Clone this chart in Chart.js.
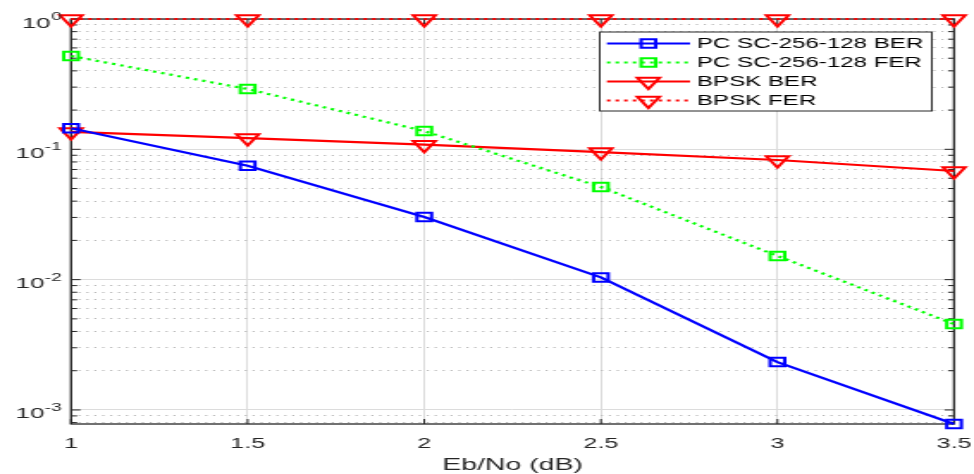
<!DOCTYPE html>
<html>
<head>
<meta charset="utf-8">
<script src="https://cdn.jsdelivr.net/npm/chart.js@4.4.1/dist/chart.umd.min.js"></script>
<style>
  html, body { margin: 0; padding: 0; background: #ffffff; overflow: hidden; }
  #c { display: block; width: 974px; height: 474px; }
</style>
</head>
<body>
<canvas id="c" width="566" height="474" style="width:974px;height:474px;"></canvas>
<script>
// ---------------- data ----------------
const xValues = [1, 1.5, 2, 2.5, 3, 3.5];
const pcBER   = [0.145, 0.0748, 0.0302, 0.0104, 0.00233, 0.00078];
const pcFER   = [0.52, 0.29, 0.138, 0.0514, 0.0152, 0.00456];
const bpskBER = [0.136, 0.122, 0.1085, 0.0953, 0.0828, 0.0682];
const bpskFER = [1, 1, 1, 1, 1, 1];
const seriesLabels = ['PC SC-256-128 BER', 'PC SC-256-128 FER', 'BPSK BER', 'BPSK FER'];
const xTickValues = [1, 1.5, 2, 2.5, 3, 3.5];
const yDecadeExponents = [-3, -2, -1, 0];
const yMinorMultipliers = [2, 3, 4, 5, 6, 7, 8, 9];
const xAxisTitle = 'Eb/No (dB)';
const yMin = 0.00078, yMax = 1;

// ---------------- helpers ----------------
const FONT = '"Liberation Sans", Arial, Helvetica, sans-serif';
const AXIS_COLOR = '#262626';
function isDecade(v) {
  const l = Math.log10(v);
  return Math.abs(l - Math.round(l)) < 1e-9;
}
function buildYTicks() {
  const out = [];
  for (let e = -4; e <= 0; e++) {
    [1].concat(yMinorMultipliers).forEach(m => {
      const v = parseFloat((m * Math.pow(10, e)).toPrecision(6));
      if (v >= yMin - 1e-12 && v <= yMax + 1e-12) out.push({ value: v });
    });
  }
  return out;
}
function pts(arr) { return xValues.map((x, i) => ({ x: x, y: arr[i] })); }

function drawMarker(ctx, style, r, rot, x, y) {
  ctx.beginPath();
  if (style === 'rect') {
    const s = Math.SQRT1_2 * r;
    ctx.rect(x - s, y - s, 2 * s, 2 * s);
  } else if (style === 'triangle') {
    let rad = rot * Math.PI / 180;
    ctx.moveTo(x + Math.sin(rad) * r, y - Math.cos(rad) * r);
    rad += 2 * Math.PI / 3;
    ctx.lineTo(x + Math.sin(rad) * r, y - Math.cos(rad) * r);
    rad += 2 * Math.PI / 3;
    ctx.lineTo(x + Math.sin(rad) * r, y - Math.cos(rad) * r);
    ctx.closePath();
  }
  ctx.stroke();
}

// ---------------- plugins ----------------
const framePlugin = {
  id: 'frame',
  beforeDatasetsDraw(chart) {
    const { ctx, chartArea: a, scales } = chart;
    ctx.save();
    ctx.strokeStyle = AXIS_COLOR;
    ctx.lineWidth = 1.3;
    ctx.strokeRect(a.left, a.top, a.right - a.left, a.bottom - a.top);
    ctx.lineWidth = 1;
    xTickValues.forEach(v => {
      const px = scales.x.getPixelForValue(v);
      ctx.beginPath();
      ctx.moveTo(px, a.bottom); ctx.lineTo(px, a.bottom - 5);
      ctx.moveTo(px, a.top); ctx.lineTo(px, a.top + 5);
      ctx.stroke();
    });
    scales.y.ticks.forEach(t => {
      const py = scales.y.getPixelForValue(t.value);
      const len = isDecade(t.value) ? 5.5 : 3.5;
      ctx.beginPath();
      ctx.moveTo(a.left, py); ctx.lineTo(a.left + len, py);
      ctx.moveTo(a.right, py); ctx.lineTo(a.right - len, py);
      ctx.stroke();
    });
    ctx.restore();
  },
  afterDraw(chart) {
    const { ctx, scales } = chart;
    ctx.save();
    ctx.fillStyle = AXIS_COLOR;
    ctx.textBaseline = 'alphabetic';
    const rightEdge = 35.5;
    yDecadeExponents.forEach(e => {
      const py = scales.y.getPixelForValue(Math.pow(10, e));
      const base = '10';
      const sup = e === 0 ? '0' : '-' + Math.abs(e);
      ctx.font = '11px ' + FONT;
      const wSup = ctx.measureText(sup).width;
      ctx.font = '15px ' + FONT;
      const wBase = ctx.measureText(base).width;
      const x0 = rightEdge - wSup - wBase;
      ctx.textAlign = 'left';
      ctx.fillText(base, x0, py + 8.5);
      ctx.font = '11px ' + FONT;
      ctx.fillText(sup, x0 + wBase + 0.3, py + 1);
    });
    ctx.restore();

    // legend
    const box = { x: 348.5, y: 32, w: 193, h: 79 };
    ctx.save();
    ctx.fillStyle = '#ffffff';
    ctx.fillRect(box.x, box.y, box.w, box.h);
    ctx.strokeStyle = AXIS_COLOR;
    ctx.lineWidth = 1;
    ctx.strokeRect(box.x, box.y, box.w, box.h);
    chart.data.datasets.forEach((ds, i) => {
      const y = 43.5 + 19 * i;
      ctx.strokeStyle = ds.borderColor;
      ctx.lineWidth = ds.borderWidth;
      ctx.setLineDash(ds.borderDash || []);
      ctx.beginPath();
      ctx.moveTo(352.7, y); ctx.lineTo(401, y);
      ctx.stroke();
      ctx.setLineDash([]);
      ctx.lineWidth = ds.pointBorderWidth;
      drawMarker(ctx, ds.pointStyle, ds.pointRadius, ds.pointRotation || 0, 376.8, y);
      ctx.fillStyle = '#000000';
      ctx.font = '14px ' + FONT;
      ctx.textAlign = 'left';
      ctx.textBaseline = 'middle';
      ctx.fillText(ds.label, 405, y + 0.5);
    });
    ctx.restore();
  }
};

// ---------------- chart ----------------
const common = { fill: false, tension: 0, clip: false, pointBackgroundColor: 'rgba(0,0,0,0)', backgroundColor: 'rgba(0,0,0,0)' };
new Chart(document.getElementById('c'), {
  type: 'line',
  data: {
    datasets: [
      Object.assign({}, common, { label: seriesLabels[0], data: pts(pcBER), borderColor: '#0000ff', pointBorderColor: '#0000ff',
        borderWidth: 2.2, borderDash: [], pointStyle: 'rect', pointRadius: 6, pointBorderWidth: 2, pointRotation: 0 }),
      Object.assign({}, common, { label: seriesLabels[1], data: pts(pcFER), borderColor: '#00ff00', pointBorderColor: '#00ff00',
        borderWidth: 2.2, borderDash: [2, 3], pointStyle: 'rect', pointRadius: 6, pointBorderWidth: 2, pointRotation: 0 }),
      Object.assign({}, common, { label: seriesLabels[2], data: pts(bpskBER), borderColor: '#ff0000', pointBorderColor: '#ff0000',
        borderWidth: 2.2, borderDash: [], pointStyle: 'triangle', pointRadius: 7.5, pointBorderWidth: 2, pointRotation: 180 }),
      Object.assign({}, common, { label: seriesLabels[3], data: pts(bpskFER), borderColor: '#ff0000', pointBorderColor: '#ff0000',
        borderWidth: 2.2, borderDash: [2, 3], pointStyle: 'triangle', pointRadius: 7.5, pointBorderWidth: 2, pointRotation: 180 })
    ]
  },
  options: {
    responsive: false,
    animation: false,
    devicePixelRatio: 1,
    events: [],
    layout: { autoPadding: false, padding: { left: 0, right: 11.6, top: 19, bottom: 0 } },
    plugins: { legend: { display: false }, tooltip: { enabled: false }, title: { display: false } },
    scales: {
      x: {
        type: 'linear', min: 1, max: 3.5,
        afterBuildTicks: s => { s.ticks = xTickValues.map(v => ({ value: v })); },
        afterFit: s => { s.height = 50; s.paddingLeft = 0; s.paddingRight = 0; },
        ticks: { color: AXIS_COLOR, font: { family: FONT, size: 14.5 }, padding: 11, maxRotation: 0, autoSkip: false,
          callback: v => String(v) },
        grid: { color: '#dcdcdc', lineWidth: 1, drawTicks: false },
        border: { display: false, dash: [] },
        title: { display: true, text: xAxisTitle, color: AXIS_COLOR, font: { family: FONT, size: 16.5 }, padding: { top: 0, bottom: -1 } }
      },
      y: {
        type: 'logarithmic', min: yMin, max: yMax,
        afterBuildTicks: s => { s.ticks = buildYTicks(); },
        afterFit: s => { s.width = 41.3; s.paddingTop = 0; s.paddingBottom = 0; },
        ticks: { display: false },
        grid: {
          drawTicks: false, lineWidth: 1,
          color: c => (c.tick && isDecade(c.tick.value)) ? '#dcdcdc' : '#b8b8b8'
        },
        border: { display: false, dash: c => (c.tick && isDecade(c.tick.value)) ? [] : [1.2, 3.4] }
      }
    }
  },
  plugins: [framePlugin]
});
</script>
</body>
</html>
